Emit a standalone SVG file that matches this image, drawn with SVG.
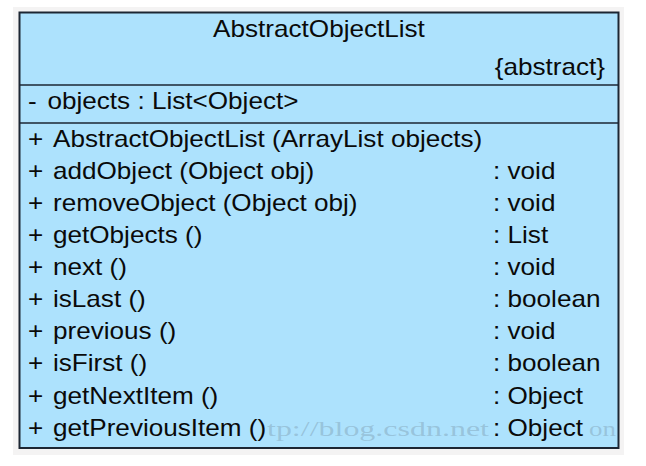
<svg xmlns="http://www.w3.org/2000/svg" width="646" height="466" viewBox="0 0 646 466">
  <style>
    .frame { fill: #f4f3f3; }
    .box { fill: #ade2fd; stroke: #1c2633; stroke-width: 2; }
    .div { stroke: #1c2633; stroke-width: 1.6; fill: none; }
    .t { font-family: "Liberation Sans", Arial, sans-serif; font-size: 23px; fill: #0a0a0a; }
    .wm { font-family: "Liberation Serif", "Times New Roman", serif; font-size: 22px; fill: #7f9fb2; fill-opacity: 0.45; }
  </style>
  <rect width="646" height="466" fill="#ffffff"/>
  <rect class="frame" x="13" y="7" width="611" height="448"/>
  <g id="AbstractObjectList">
    <rect class="box" x="19.5" y="12.5" width="599" height="435.5"/>
    <line class="div" x1="19.5" y1="85" x2="618.5" y2="85"/>
    <line class="div" x1="19.5" y1="123" x2="618.5" y2="123"/>
    <text class="wm" x="267" y="436" textLength="222" lengthAdjust="spacingAndGlyphs">tp://blog.csdn.net</text>
    <text class="wm" x="589" y="436" textLength="27" lengthAdjust="spacingAndGlyphs">on</text>
    <g transform="scale(1.135 1)">
      <text class="t" x="281.06" y="37" text-anchor="middle">AbstractObjectList</text>
      <text class="t" x="533.04" y="75" text-anchor="end">{abstract}</text>
      <text class="t" y="109"><tspan x="24.67">-</tspan><tspan x="41.85">objects : List&lt;Object&gt;</tspan></text>
      <text class="t" y="147"><tspan x="24.67">+</tspan><tspan x="46.7">AbstractObjectList (ArrayList objects)</tspan></text>
      <text class="t" y="179"><tspan x="24.67">+</tspan><tspan x="46.7">addObject (Object obj)</tspan><tspan x="434.4">: void</tspan></text>
      <text class="t" y="211"><tspan x="24.67">+</tspan><tspan x="46.7">removeObject (Object obj)</tspan><tspan x="434.4">: void</tspan></text>
      <text class="t" y="243"><tspan x="24.67">+</tspan><tspan x="46.7">getObjects ()</tspan><tspan x="434.4">: List</tspan></text>
      <text class="t" y="275"><tspan x="24.67">+</tspan><tspan x="46.7">next ()</tspan><tspan x="434.4">: void</tspan></text>
      <text class="t" y="307.5"><tspan x="24.67">+</tspan><tspan x="46.7">isLast ()</tspan><tspan x="434.4">: boolean</tspan></text>
      <text class="t" y="339.5"><tspan x="24.67">+</tspan><tspan x="46.7">previous ()</tspan><tspan x="434.4">: void</tspan></text>
      <text class="t" y="371.5"><tspan x="24.67">+</tspan><tspan x="46.7">isFirst ()</tspan><tspan x="434.4">: boolean</tspan></text>
      <text class="t" y="404"><tspan x="24.67">+</tspan><tspan x="46.7">getNextItem ()</tspan><tspan x="434.4">: Object</tspan></text>
      <text class="t" y="436"><tspan x="24.67">+</tspan><tspan x="46.7">getPreviousItem ()</tspan><tspan x="434.4">: Object</tspan></text>
    </g>
  </g>
  <g id="connectors"/>
</svg>
